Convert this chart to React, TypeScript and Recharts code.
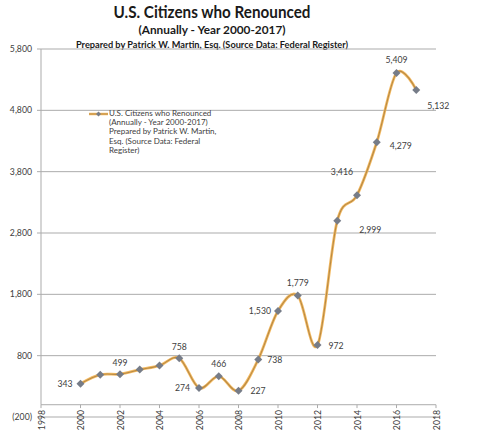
import React from 'react';
import { LineChart, Line, XAxis, YAxis, CartesianGrid, ReferenceLine, LabelList, Legend } from 'recharts';

const years = [2000, 2001, 2002, 2003, 2004, 2005, 2006, 2007, 2008, 2009, 2010, 2011, 2012, 2013, 2014, 2015, 2016, 2017];
const renounced = [343, 490, 499, 573, 638, 758, 274, 466, 227, 738, 1530, 1779, 972, 2999, 3416, 4279, 5409, 5132];
const showLabel = [true, false, true, false, false, true, true, true, true, true, true, true, true, true, true, true, true, true];
const xTicks = [1998, 2000, 2002, 2004, 2006, 2008, 2010, 2012, 2014, 2016, 2018];
const yTicks = [-200, 800, 1800, 2800, 3800, 4800, 5800];
const titleLines = [
  'U.S. Citizens who Renounced',
  '(Annually - Year 2000-2017)',
  'Prepared by Patrick W. Martin, Esq. (Source Data: Federal Register)',
];
const legendLines = [
  'U.S. Citizens who Renounced',
  '(Annually - Year 2000-2017)',
  'Prepared by Patrick W. Martin,',
  'Esq. (Source Data: Federal',
  'Register)',
];

// label placement (style only): [textAnchor, dx, dy]
const labelPlacement: [string, number, number][] = [
  ['end', -8, 0], ['middle', 0, 0], ['middle', 0, -12], ['middle', 0, 0], ['middle', 0, 0],
  ['middle', 0, -12], ['end', -9, 0], ['middle', 0, -13], ['start', 12, 0], ['start', 9, 0],
  ['end', -7, 0], ['middle', 0, -13], ['start', 11, 0], ['start', 22, 9], ['end', -4, -24],
  ['start', 13, 3], ['middle', 0, -13], ['start', 11, 16],
];

const data = years.map((year, i) => ({
  year,
  value: renounced[i],
  label: showLabel[i] ? renounced[i] : null,
}));

const FONT = 'Lato, "Noto Sans", sans-serif';
const TEXT = '#404040';
const GRID = '#ABABAB';
const LINE_OUTER = '#F4BA62';
const LINE_INNER = '#B88A44';
const MARKER = '#767C88';

// Catmull-Rom style (cardinal, tension 0) curve similar to Excel smoothing
function excelSmooth(context: any) {
  const k = 1 / 6;
  let x0 = NaN, y0 = NaN, x1 = NaN, y1 = NaN, x2 = NaN, y2 = NaN, pt = 0, line = NaN;
  const bez = (x: number, y: number) => {
    context.bezierCurveTo(
      x1 + k * (x2 - x0), y1 + k * (y2 - y0),
      x2 + k * (x1 - x), y2 + k * (y1 - y),
      x2, y2
    );
  };
  return {
    areaStart() { line = 0; },
    areaEnd() { line = NaN; },
    lineStart() { x0 = x1 = x2 = y0 = y1 = y2 = NaN; pt = 0; },
    lineEnd() {
      if (pt === 2) context.lineTo(x2, y2);
      else if (pt === 3) bez(x1, y1);
      if (line || (line !== 0 && pt === 1)) context.closePath();
      line = 1 - line;
    },
    point(x: number, y: number) {
      x = +x; y = +y;
      if (pt === 0) { pt = 1; line ? context.lineTo(x, y) : context.moveTo(x, y); }
      else if (pt === 1) { pt = 2; x1 = x; y1 = y; }
      else { pt = 3; bez(x, y); }
      x0 = x1; x1 = x2; x2 = x;
      y0 = y1; y1 = y2; y2 = y;
    },
  };
}

const Diamond = (props: any) => {
  const { cx, cy } = props;
  if (cx == null || cy == null) return null;
  const r = 4;
  return <path d={`M${cx},${cy - r}L${cx + r},${cy}L${cx},${cy + r}L${cx - r},${cy}Z`} fill={MARKER} />;
};

const renderLabel = (props: any) => {
  const { index, value } = props;
  if (value == null) return null;
  const x = props.x ?? props.viewBox?.x;
  const y = props.y ?? props.viewBox?.y;
  const [anchor, dx, dy] = labelPlacement[index] || ['middle', 0, -12];
  return (
    <text x={x + dx} y={y + dy} textAnchor={anchor as any} dominantBaseline="central" fontSize={8.7} fontFamily={FONT} fill={TEXT}>
      {Number(value).toLocaleString('en-US')}
    </text>
  );
};

const XTick = (props: any) => {
  const { x, y, payload } = props;
  const ty = y - 7;
  return (
    <text x={x} y={ty} transform={`rotate(-90 ${x} ${ty})`} textAnchor="end" dominantBaseline="central" fontSize={8.7} fontFamily={FONT} fill={TEXT}>
      {payload.value}
    </text>
  );
};

const fmtY = (v: number) => (v < 0 ? `(${Math.abs(v).toLocaleString('en-US')})` : v.toLocaleString('en-US'));

const LegendContent = () => (
  <div style={{ position: 'relative', width: 130, height: 50, fontFamily: FONT, fontSize: 8, color: TEXT, lineHeight: '9.2px' }}>
    <svg width={22} height={10} style={{ position: 'absolute', left: 0, top: 0 }}>
      <line x1={1} y1={5} x2={20} y2={5} stroke={LINE_OUTER} strokeWidth={2.5} />
      <line x1={1} y1={5} x2={20} y2={5} stroke={LINE_INNER} strokeWidth={1} />
      <path d="M10.5,2.5L13,5L10.5,7.5L8,5Z" fill={MARKER} />
    </svg>
    <div style={{ position: 'absolute', left: 21, top: 0, whiteSpace: 'nowrap' }}>
      {legendLines.map((l) => (
        <div key={l}>{l}</div>
      ))}
    </div>
  </div>
);

export default function App() {
  return (
    <div style={{ position: 'absolute', left: 0, top: 0, width: 479, height: 445, background: '#fff' }}>
      <svg width={479} height={60} style={{ position: 'absolute', left: 0, top: 0 }}>
        <text x={212} y={17.5} textAnchor="middle" fontFamily={FONT} fontWeight={700} fontSize={17} fill="#1a1a1a" textLength={197} lengthAdjust="spacingAndGlyphs">
          {titleLines[0]}
        </text>
        <text x={212} y={33.5} textAnchor="middle" fontFamily={FONT} fontWeight={700} fontSize={11} fill="#1a1a1a" textLength={147} lengthAdjust="spacingAndGlyphs">
          {titleLines[1]}
        </text>
        <text x={212} y={47.5} textAnchor="middle" fontFamily={FONT} fontWeight={700} fontSize={9} fill="#1a1a1a" textLength={272} lengthAdjust="spacingAndGlyphs">
          {titleLines[2]}
        </text>
      </svg>
      <LineChart width={479} height={445} data={data} margin={{ top: 49, right: 43, left: 0, bottom: 8 }} style={{ position: 'absolute', left: 0, top: 0 }}>
        <CartesianGrid horizontal vertical={false} stroke={GRID} />
        <XAxis
          dataKey="year"
          type="number"
          domain={[1998, 2018]}
          ticks={xTicks}
          axisLine={false}
          tickLine={false}
          tickSize={0}
          tickMargin={0}
          height={20}
          tick={<XTick />}
          interval={0}
        />
        <YAxis
          type="number"
          domain={[-200, 5800]}
          ticks={yTicks}
          width={41}
          axisLine={false}
          tickLine={{ stroke: GRID }}
          tickSize={4}
          tickMargin={5}
          tickFormatter={fmtY}
          tick={{ fontSize: 8.7, fontFamily: FONT, fill: TEXT }}
          interval={0}
        />
        <ReferenceLine y={0} stroke={GRID} />
        <ReferenceLine segment={[{ x: 1998, y: 0 }, { x: 1998, y: 5800 }]} stroke={GRID} />
        {xTicks.map((t) => (
          <ReferenceLine key={t} segment={[{ x: t, y: 0 }, { x: t, y: -55 }]} stroke={GRID} ifOverflow="visible" />
        ))}
        <Legend layout="vertical" align="center" verticalAlign="middle" content={<LegendContent />} wrapperStyle={{ left: 88, top: 109, width: 140 }} />
        <Line dataKey="value" type={excelSmooth as any} stroke={LINE_OUTER} strokeWidth={2.8} dot={false} activeDot={false} isAnimationActive={false} legendType="none" />
        <Line dataKey="value" type={excelSmooth as any} stroke={LINE_INNER} strokeWidth={1.1} dot={<Diamond />} activeDot={false} isAnimationActive={false} legendType="none">
          <LabelList dataKey="label" content={renderLabel} />
        </Line>
      </LineChart>
    </div>
  );
}
